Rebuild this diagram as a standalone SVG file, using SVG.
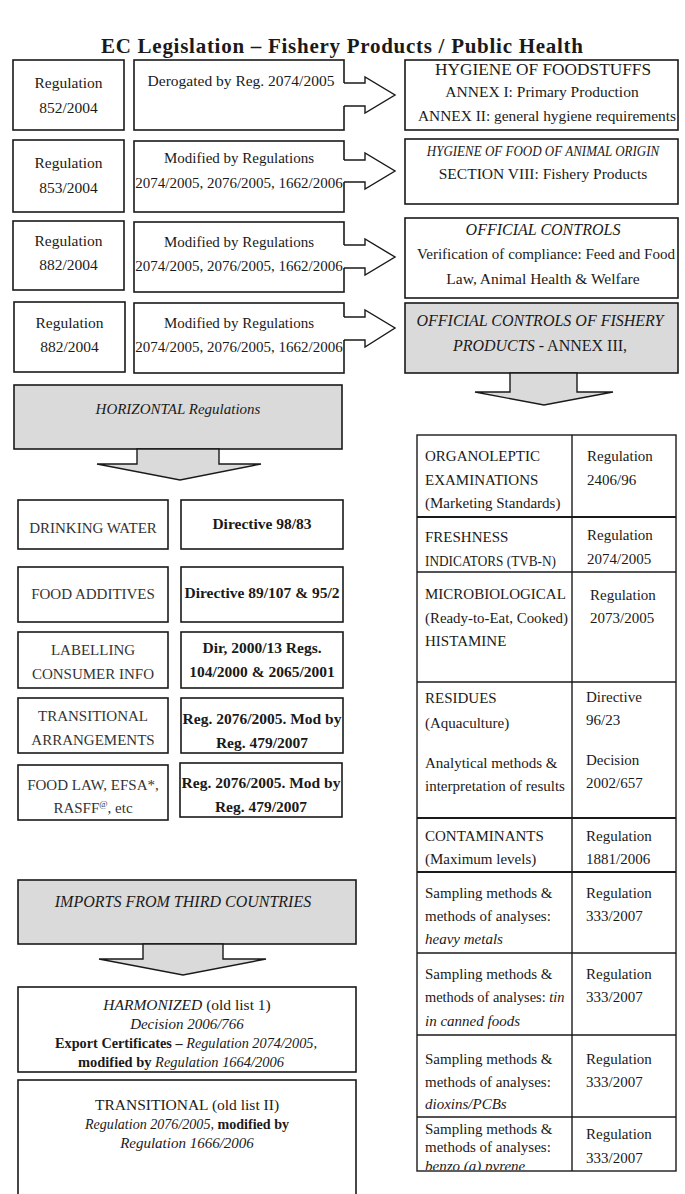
<svg xmlns="http://www.w3.org/2000/svg" width="685" height="1194" viewBox="0 0 685 1194">
<style>
text{font-family:"Liberation Serif","Times New Roman",serif;font-size:15px;fill:#1a1a1a}
.c{text-anchor:middle}
.b{font-weight:bold}
.i{font-style:italic}
.lt{fill:#333}
.box{fill:#fff;stroke:#1a1a1a;stroke-width:1.6}
.grey{fill:#dadada;stroke:#1a1a1a;stroke-width:1.6}
.arw{fill:none;stroke:#1a1a1a;stroke-width:1.4;stroke-linejoin:miter}
.garw{fill:#dadada;stroke:#1a1a1a;stroke-width:1.4}
.tl{stroke:#1a1a1a;stroke-width:1.4;fill:none}
.tk{stroke:#1a1a1a;stroke-width:2.2;fill:none}
</style>
<defs>
<clipPath id="clipLast"><rect x="417" y="1117" width="155" height="53"/></clipPath>
</defs>
<rect width="685" height="1194" fill="#fff"/>
<text id="title" x="342" y="53" class="c b" style="font-size:21px" textLength="482" lengthAdjust="spacing">EC Legislation – Fishery Products / Public Health</text>

<g id="reg852"><rect class="box" x="13" y="60" width="111" height="70"/><text class="c" x="68.5" y="88" style="font-size:15.5px">Regulation</text><text class="c" x="68.5" y="113" style="font-size:15.5px">852/2004</text></g>
<g id="mod852"><rect class="box" x="134" y="60" width="210" height="70"/><text class="c" x="241" y="86" style="font-size:15.5px">Derogated by Reg. 2074/2005</text></g>
<g id="reg853"><rect class="box" x="13" y="140" width="111" height="72"/><text class="c" x="68.5" y="168" style="font-size:15.5px">Regulation</text><text class="c" x="68.5" y="193" style="font-size:15.5px">853/2004</text></g>
<g id="mod853"><rect class="box" x="134" y="141" width="210" height="71"/><text class="c" x="239" y="163">Modified by Regulations</text><text class="c" x="239" y="188">2074/2005, 2076/2005, 1662/2006</text></g>
<g id="reg882a"><rect class="box" x="13" y="221" width="111" height="69"/><text class="c" x="68.5" y="246" style="font-size:15.5px">Regulation</text><text class="c" x="68.5" y="270" style="font-size:15.5px">882/2004</text></g>
<g id="mod882a"><rect class="box" x="134" y="222" width="210" height="70"/><text class="c" x="239" y="247">Modified by Regulations</text><text class="c" x="239" y="271">2074/2005, 2076/2005, 1662/2006</text></g>
<g id="reg882b"><rect class="box" x="14" y="302" width="111" height="70"/><text class="c" x="69.5" y="328" style="font-size:15.5px">Regulation</text><text class="c" x="69.5" y="352" style="font-size:15.5px">882/2004</text></g>
<g id="mod882b"><rect class="box" x="134" y="303" width="210" height="70"/><text class="c" x="239" y="328">Modified by Regulations</text><text class="c" x="239" y="352">2074/2005, 2076/2005, 1662/2006</text></g>

<g id="hygiene"><rect class="box" x="405" y="60" width="273" height="70"/><text class="c" x="543" y="75" style="font-size:16.5px" textLength="216" lengthAdjust="spacingAndGlyphs">HYGIENE OF FOODSTUFFS</text><text class="c" x="542" y="97" style="font-size:15.5px">ANNEX I: Primary Production</text><text class="c" x="547" y="121" style="font-size:15.5px" textLength="258" lengthAdjust="spacingAndGlyphs">ANNEX II: general hygiene requirements</text></g>
<g id="animal"><rect class="box" x="405" y="139" width="273" height="65"/><text class="c i" transform="translate(543,156) scale(0.84,1)" x="0" y="0" style="font-size:15.5px">HYGIENE OF FOOD OF ANIMAL ORIGIN</text><text class="c" x="543" y="179" style="font-size:15.5px">SECTION VIII: Fishery Products</text></g>
<g id="official"><rect class="box" x="405" y="218" width="273" height="80"/><text class="c i" x="543" y="235" style="font-size:16px">OFFICIAL CONTROLS</text><text class="c" x="546" y="259" style="font-size:15.5px" textLength="258" lengthAdjust="spacingAndGlyphs">Verification of compliance: Feed and Food</text><text class="c" x="543" y="284" style="font-size:15.5px">Law, Animal Health &amp; Welfare</text></g>
<g id="fishery"><rect class="grey" x="405" y="303" width="273" height="70"/><text class="c i" x="540" y="326" style="font-size:16px">OFFICIAL CONTROLS OF FISHERY</text><text class="c" x="540" y="351" style="font-size:16px"><tspan class="i">PRODUCTS -</tspan> ANNEX III,</text></g>

<g id="horizontal"><rect class="grey" x="14" y="385" width="328" height="64"/><text class="c i" x="178" y="414">HORIZONTAL Regulations</text></g>

<g id="drinking"><rect class="box" x="18" y="500" width="150" height="49"/><text class="c lt" x="93" y="533">DRINKING WATER</text></g>
<g id="dir9883"><rect class="box" x="181" y="500" width="162" height="49"/><text class="c b" x="262" y="529" style="font-size:15.5px">Directive 98/83</text></g>
<g id="additives"><rect class="box" x="18" y="567" width="150" height="55"/><text class="c lt" x="93" y="599">FOOD ADDITIVES</text></g>
<g id="dir89107"><rect class="box" x="181" y="567" width="162" height="55"/><text class="c b" x="262" y="598" style="font-size:15.5px">Directive 89/107 &amp; 95/2</text></g>
<g id="labelling"><rect class="box" x="18" y="632" width="150" height="56"/><text class="c lt" x="93" y="655">LABELLING</text><text class="c lt" x="93" y="679">CONSUMER INFO</text></g>
<g id="dir200013"><rect class="box" x="181" y="632" width="162" height="56"/><text class="c b" x="262" y="653" style="font-size:15.5px">Dir, 2000/13 Regs.</text><text class="c b" x="262" y="677" style="font-size:15.5px">104/2000 &amp; 2065/2001</text></g>
<g id="transarr"><rect class="box" x="18" y="698" width="150" height="55"/><text class="c lt" x="93" y="721">TRANSITIONAL</text><text class="c lt" x="93" y="745">ARRANGEMENTS</text></g>
<g id="reg2076a"><rect class="box" x="181" y="698" width="162" height="55"/><text class="c b" x="262" y="724" style="font-size:15.5px">Reg. 2076/2005. Mod by</text><text class="c b" x="262" y="748" style="font-size:15.5px">Reg. 479/2007</text></g>
<g id="foodlaw"><rect class="box" x="18" y="765" width="150" height="55"/><text class="c lt" x="93" y="790">FOOD LAW, EFSA*,</text><text class="c lt" x="93" y="813">RASFF<tspan dy="-6" style="font-size:9px">@</tspan><tspan dy="6">, etc</tspan></text></g>
<g id="reg2076b"><rect class="box" x="180" y="763" width="162" height="54"/><text class="c b" x="261" y="788" style="font-size:15.5px">Reg. 2076/2005. Mod by</text><text class="c b" x="261" y="812" style="font-size:15.5px">Reg. 479/2007</text></g>

<g id="imports"><rect class="grey" x="18" y="880" width="338" height="64"/><text class="c i" x="183" y="907" style="font-size:16px">IMPORTS FROM THIRD COUNTRIES</text></g>
<g id="harmonized"><rect class="box" x="18" y="987" width="338" height="85"/>
<text class="c" x="187" y="1010" style="font-size:15.5px"><tspan class="i">HARMONIZED</tspan> (old list 1)</text>
<text class="c i" x="187" y="1029">Decision 2006/766</text>
<text class="c" x="186" y="1048" textLength="262" lengthAdjust="spacingAndGlyphs"><tspan class="b">Export Certificates –</tspan> <tspan class="i">Regulation 2074/2005,</tspan></text>
<text class="c" x="181" y="1067" textLength="206" lengthAdjust="spacingAndGlyphs"><tspan class="b">modified by</tspan> <tspan class="i">Regulation 1664/2006</tspan></text></g>
<g id="transitional"><rect class="box" x="18" y="1080" width="338" height="130"/>
<text class="c" x="187" y="1110" style="font-size:15.5px">TRANSITIONAL (old list II)</text>
<text class="c" x="187" y="1129" textLength="204" lengthAdjust="spacingAndGlyphs"><tspan class="i">Regulation 2076/2005,</tspan> <tspan class="b">modified by</tspan></text>
<text class="c i" x="187" y="1148">Regulation 1666/2006</text></g>

<g id="table">
<rect x="417" y="435" width="259" height="736" fill="#fff" class="tl"/>
<line class="tl" x1="572" y1="435" x2="572" y2="1171"/>
<line class="tk" x1="417" y1="517" x2="676" y2="517"/>
<line class="tl" x1="417" y1="572" x2="676" y2="572"/>
<line class="tl" x1="417" y1="682" x2="676" y2="682"/>
<line class="tk" x1="417" y1="818" x2="676" y2="818"/>
<line class="tk" x1="417" y1="872" x2="676" y2="872"/>
<line class="tl" x1="417" y1="953" x2="676" y2="953"/>
<line class="tl" x1="417" y1="1035" x2="676" y2="1035"/>
<line class="tl" x1="417" y1="1117" x2="676" y2="1117"/>
<g id="row-organoleptic"><text x="425" y="461">ORGANOLEPTIC</text><text x="425" y="485">EXAMINATIONS</text><text x="425" y="508">(Marketing Standards)</text><text x="587" y="461">Regulation</text><text x="587" y="485">2406/96</text></g>
<g id="row-freshness"><text x="425" y="542">FRESHNESS</text><text x="425" y="566" textLength="131" lengthAdjust="spacingAndGlyphs">INDICATORS (TVB-N)</text><text x="587" y="540">Regulation</text><text x="587" y="564">2074/2005</text></g>
<g id="row-micro"><text x="425" y="599">MICROBIOLOGICAL</text><text x="425" y="623" textLength="143" lengthAdjust="spacingAndGlyphs">(Ready-to-Eat, Cooked)</text><text x="425" y="646">HISTAMINE</text><text x="590" y="600">Regulation</text><text x="590" y="623">2073/2005</text></g>
<g id="row-residues"><text x="425" y="703">RESIDUES</text><text x="425" y="728">(Aquaculture)</text><text x="425" y="768">Analytical methods &amp;</text><text x="425" y="791">interpretation of results</text><text x="586" y="702">Directive</text><text x="586" y="725">96/23</text><text x="586" y="765">Decision</text><text x="586" y="788">2002/657</text></g>
<g id="row-contaminants"><text x="425" y="841">CONTAMINANTS</text><text x="425" y="864">(Maximum levels)</text><text x="586" y="841">Regulation</text><text x="586" y="864">1881/2006</text></g>
<g id="row-metals"><text x="425" y="898">Sampling methods &amp;</text><text x="425" y="921">methods of analyses:</text><text class="i" x="425" y="944">heavy metals</text><text x="586" y="898">Regulation</text><text x="586" y="921">333/2007</text></g>
<g id="row-tin"><text x="425" y="979">Sampling methods &amp;</text><text x="425" y="1002" style="font-size:14.4px">methods of analyses: <tspan class="i">tin</tspan></text><text class="i" x="425" y="1026">in canned foods</text><text x="586" y="979">Regulation</text><text x="586" y="1002">333/2007</text></g>
<g id="row-dioxins"><text x="425" y="1064">Sampling methods &amp;</text><text x="425" y="1087">methods of analyses:</text><text class="i" x="425" y="1109">dioxins/PCBs</text><text x="586" y="1064">Regulation</text><text x="586" y="1087">333/2007</text></g>
<g id="row-benzo"><text x="425" y="1134">Sampling methods &amp;</text><text x="425" y="1152">methods of analyses:</text><text class="i" x="425" y="1171" clip-path="url(#clipLast)">benzo (a) pyrene</text><text x="586" y="1139">Regulation</text><text x="586" y="1163">333/2007</text></g>
</g>

<g id="connectors">
<polygon points="343,83 365,83 365,77 395,95 365,113 365,106 343,106" fill="#fff"/>
<polyline class="arw" points="344,83 365,83 365,77 395,95 365,113 365,106 344,106"/>
<polygon points="343,160 365,160 365,153 395,171 365,189 365,182 343,182" fill="#fff"/>
<polyline class="arw" points="344,160 365,160 365,153 395,171 365,189 365,182 344,182"/>
<polygon points="343,245 365,245 365,239 395,257 365,275 365,268 343,268" fill="#fff"/>
<polyline class="arw" points="344,245 365,245 365,239 395,257 365,275 365,268 344,268"/>
<polygon points="343,317 365,317 365,310 395,328 365,347 365,340 343,340" fill="#fff"/>
<polyline class="arw" points="344,317 365,317 365,310 395,328 365,347 365,340 344,340"/>
<polygon class="garw" points="510,373 510,392 475,392 544,405 613,392 577,392 577,373"/>
<polygon class="garw" points="137,449 137,464 97,464 180,480 261,464 219,464 219,449"/>
<polygon class="garw" points="143,944 143,959 99,959 183,975 266,959 223,959 223,944"/>
</g>
</svg>
